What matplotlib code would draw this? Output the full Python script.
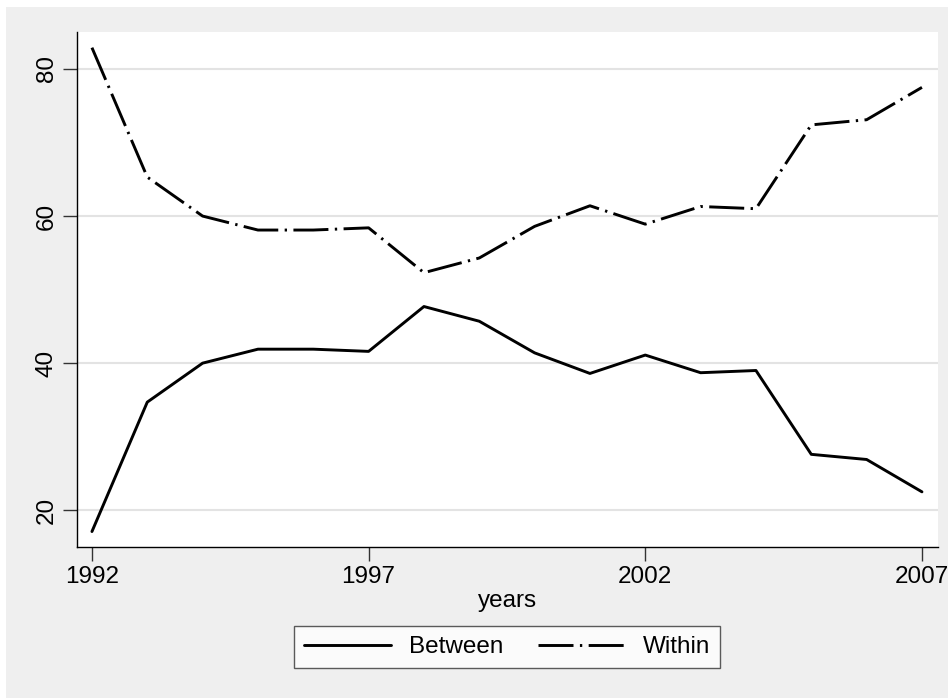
import matplotlib
matplotlib.use("Agg")
import matplotlib.pyplot as plt
from matplotlib.patches import Rectangle

plt.rcParams['font.family'] = ['Liberation Sans', 'DejaVu Sans']

# data
years = list(range(1992, 2008))
between = [17.1, 34.7, 40.0, 41.9, 41.9, 41.6, 47.7, 45.7,
           41.4, 38.6, 41.1, 38.7, 39.0, 27.6, 26.9, 22.5]
within = [82.9, 65.3, 60.0, 58.1, 58.1, 58.4, 52.3, 54.3,
          58.6, 61.4, 58.9, 61.3, 61.0, 72.4, 73.1, 77.5]
xticks = [1992, 1997, 2002, 2007]
yticks = [20, 40, 60, 80]

bg = '#efefef'
fs = 17.5
fig = plt.figure(figsize=(9.48, 6.98), dpi=100, facecolor='white')
fig.patches.append(Rectangle((6 / 948, 0), 1, 1 - 7 / 698, transform=fig.transFigure,
                             facecolor=bg, edgecolor='none', zorder=-10))

ax = fig.add_axes([77 / 948, 1 - 547 / 698, (938 - 77) / 948, (547 - 32) / 698])
ax.set_facecolor('white')

ax.plot(years, between, color='black', lw=2.1, label='Between',
        solid_joinstyle='round', solid_capstyle='round')
ax.plot(years, within, color='black', lw=2.1, label='Within',
        dashes=(12, 2.2, 0.8, 2.2), dash_capstyle='butt')

ax.set_xlim(1991.73, 2007.29)
ax.set_ylim(15, 85.03)
ax.set_xticks(xticks)
ax.set_yticks(yticks)
ax.set_yticklabels([str(v) for v in yticks], rotation=90, va='center')
ax.grid(axis='y', color='#e3e3e3', lw=1.5)
ax.set_axisbelow(True)

for s in ['top', 'right']:
    ax.spines[s].set_visible(False)
for s in ['left', 'bottom']:
    ax.spines[s].set_color('black')
    ax.spines[s].set_linewidth(1)
ax.tick_params(axis='both', length=10, width=1, color='#333333',
               labelsize=fs, pad=4)
ax.set_xlabel('years', fontsize=fs, labelpad=1)

leg = fig.legend(loc='center', bbox_to_anchor=(507 / 948, 1 - 647 / 698), ncol=2,
                 fontsize=fs, frameon=True, fancybox=False, handlelength=3.6,
                 columnspacing=1.45, handletextpad=0.7, borderpad=0.4,
                 borderaxespad=0)
leg.get_frame().set_edgecolor('#333333')
leg.get_frame().set_linewidth(1)
leg.get_frame().set_facecolor('white')

fig.savefig('out.png', dpi=100, facecolor=fig.get_facecolor())
